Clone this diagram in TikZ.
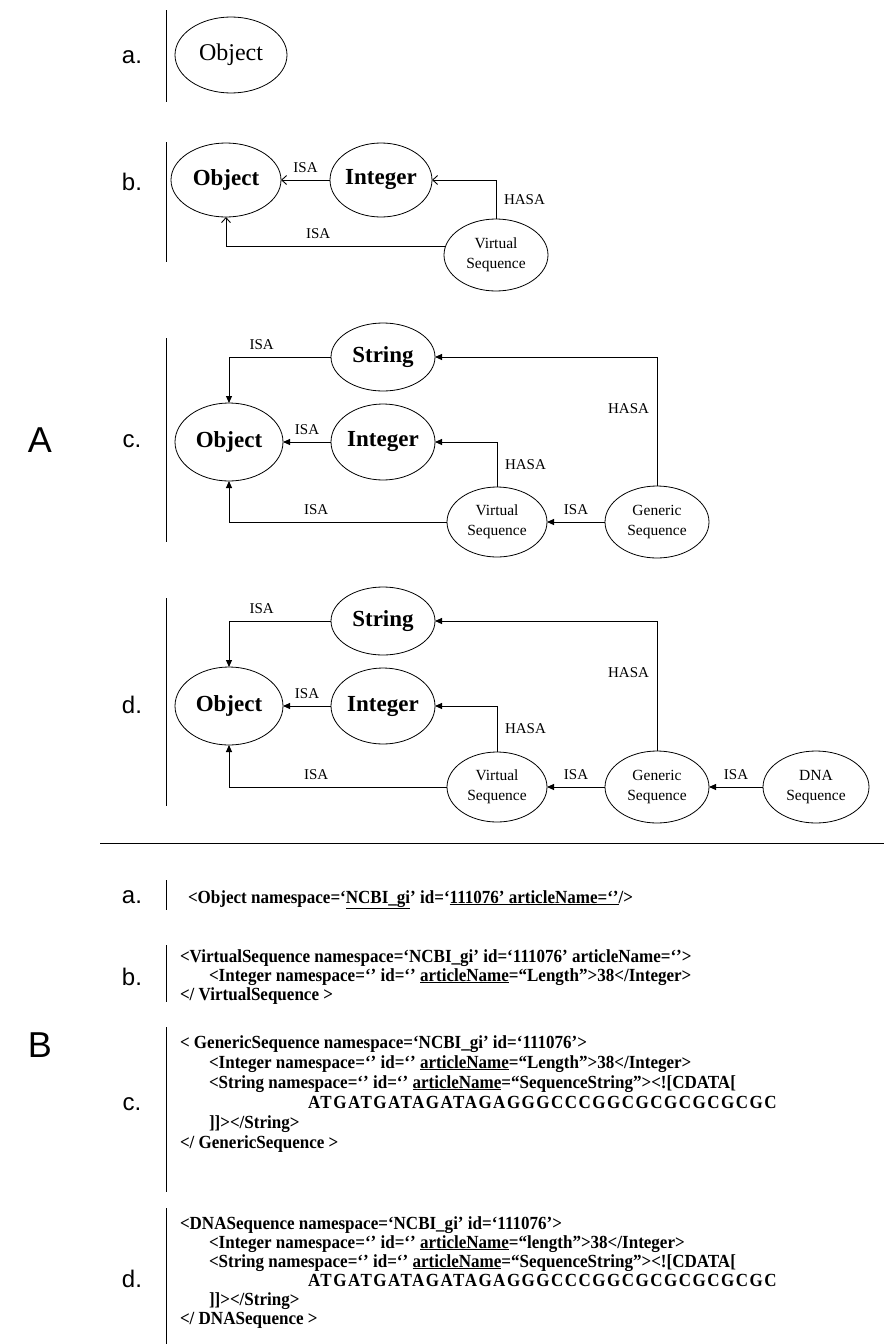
\documentclass[tikz,border=0pt]{standalone}
\usepackage{fontspec}
\setmainfont{Liberation Serif}
\newfontfamily\arialfont{Liberation Sans}
\newfontfamily\xmlfont[FakeStretch=0.92]{Liberation Serif}
\usetikzlibrary{shapes.geometric,arrows.meta}

\begin{document}
\begin{tikzpicture}[x=1pt,y=-1pt,
  every node/.style={inner sep=0pt, outer sep=0pt},
  sec/.style={font=\arialfont\fontsize{24}{24}\selectfont},
  part/.style={font=\arialfont\fontsize{36}{36}\selectfont},
  cls/.style={draw, ellipse, line width=0.8pt, font=\bfseries\fontsize{23}{23}\selectfont},
  sub/.style={draw, ellipse, line width=0.8pt, align=center, font=\fontsize{15.5}{20}\selectfont},
  lbl/.style={font=\fontsize{15}{15}\selectfont},
  barb/.style={-{Straight Barb[length=5pt,width=9pt]}, line width=0.9pt},
  tri/.style={-{Triangle[length=7pt,width=6pt]}, line width=0.9pt},
  xml/.style={anchor=base west, font=\xmlfont\bfseries\fontsize{18.5}{18.5}\selectfont},
  bar/.style={line width=0.9pt}]
\useasboundingbox (0,0) rectangle (884,1344);

\node[part] (pa) at (40,440) {A};
\node[part] (pb) at (40,1045) {B};

% A.a
\node[sec] (la) at (132,57) {a.};
\draw[bar] (166,10) -- (166,102);
\node[cls, font=\fontsize{24}{24}\selectfont, minimum width=112, minimum height=76] (oa) at (231,55) {Object};

% A.b
\node[sec] (lb) at (132,182) {b.};
\draw[bar] (166,142) -- (166,262);
\node[cls, minimum width=110, minimum height=74] (ob) at (226,180) {Object};
\node[cls, minimum width=102, minimum height=74] (ib) at (381,180) {Integer};
\node[sub, minimum width=104, minimum height=72] (vb) at (496,255) {Virtual\\Sequence};
\draw[barb] (ib.west) -- node[lbl, above=7pt] {ISA} (ob.east);
\draw[barb] (vb.north) |- node[lbl, pos=0.25, right=8pt] {HASA} (ib.east);
\draw[barb] (vb.170) -| node[lbl, pos=0.29, above=7pt] {ISA} (ob.south);

% A.c
\node[sec] (lc) at (132,441) {c.};
\draw[bar] (166,338) -- (166,542);
\node[cls, minimum width=108, minimum height=78] (oc) at (229,442) {Object};
\node[cls, minimum width=104, minimum height=76] (ic) at (383,442) {Integer};
\node[cls, minimum width=104, minimum height=68] (sc) at (383,357) {String};
\node[sub, minimum width=100, minimum height=70] (vc) at (497,522) {Virtual\\Sequence};
\node[sub, minimum width=104, minimum height=72] (gc) at (657,522) {Generic\\Sequence};
\draw[tri] (sc.west) -| node[lbl, pos=0.34, above=7pt] {ISA} (oc.north);
\draw[tri] (ic.west) -- node[lbl, above=7pt] {ISA} (oc.east);
\draw[tri] (vc.north) |- node[lbl, pos=0.25, right=8pt] {HASA} (ic.east);
\draw[tri] (vc.west) -| node[lbl, pos=0.3, above=7pt] {ISA} (oc.south);
\draw[tri] (gc.west) -- node[lbl, above=7pt] {ISA} (vc.east);
\draw[tri] (gc.north) |- node[lbl, pos=0.3, left=8pt] {HASA} (sc.east);

% A.d
\node[sec] (ld) at (132,705) {d.};
\draw[bar] (166,598) -- (166,806);
\node[cls, minimum width=108, minimum height=78] (od) at (229,706) {Object};
\node[cls, minimum width=104, minimum height=76] (id) at (383,706) {Integer};
\node[cls, minimum width=104, minimum height=68] (sd) at (383,621) {String};
\node[sub, minimum width=100, minimum height=70] (vd) at (497,787) {Virtual\\Sequence};
\node[sub, minimum width=104, minimum height=72] (gd) at (657,787) {Generic\\Sequence};
\node[sub, minimum width=106, minimum height=72] (dd) at (816,787) {DNA\\Sequence};
\draw[tri] (sd.west) -| node[lbl, pos=0.34, above=7pt] {ISA} (od.north);
\draw[tri] (id.west) -- node[lbl, above=7pt] {ISA} (od.east);
\draw[tri] (vd.north) |- node[lbl, pos=0.25, right=8pt] {HASA} (id.east);
\draw[tri] (vd.west) -| node[lbl, pos=0.3, above=7pt] {ISA} (od.south);
\draw[tri] (gd.west) -- node[lbl, above=7pt] {ISA} (vd.east);
\draw[tri] (gd.north) |- node[lbl, pos=0.3, left=8pt] {HASA} (sd.east);
\draw[tri] (dd.west) -- node[lbl, above=7pt] {ISA} (gd.east);

\draw[bar] (100,843) -- (884,843);

% B.a
\node[sec] (xa) at (132,897) {a.};
\draw[bar] (166,880) -- (166,910);
\node[xml] (ta1) at (188,903) {<Object namespace=‘\underline{NCBI\_gi}’ id=‘\underline{111076’ articleName=‘’}/>};

% B.b
\node[sec] (xb) at (132,977) {b.};
\draw[bar] (166,945) -- (166,1002);
\node[xml] (tb1) at (180,962) {<VirtualSequence namespace=‘NCBI\_gi’ id=‘111076’ articleName=‘’>};
\node[xml] (tb2) at (209,981) {<Integer namespace=‘’ id=‘’ \underline{articleName}=“Length”>38</Integer>};
\node[xml] (tb3) at (180,1000) {</ VirtualSequence >};

% B.c
\node[sec] (xc) at (132,1104) {c.};
\draw[bar] (166,1027) -- (166,1192);
\node[xml] (tc1) at (180,1048) {< GenericSequence namespace=‘NCBI\_gi’ id=‘111076’>};
\node[xml] (tc2) at (209,1068) {<Integer namespace=‘’ id=‘’ \underline{articleName}=“Length”>38</Integer>};
\node[xml] (tc3) at (209,1088) {<String namespace=‘’ id=‘’ \underline{articleName}=“SequenceString”><![CDATA[};
\node[xml] (tc4) at (308,1108) {\addfontfeature{LetterSpace=8}ATGATGATAGATAGAGGGCCCGGCGCGCGCGCGC};
\node[xml] (tc5) at (209,1128) {]]></String>};
\node[xml] (tc6) at (180,1148) {</ GenericSequence >};

% B.d
\node[sec] (xd) at (132,1279) {d.};
\draw[bar] (166,1208) -- (166,1344);
\node[xml] (td1) at (180,1229) {<DNASequence namespace=‘NCBI\_gi’ id=‘111076’>};
\node[xml] (td2) at (209,1248) {<Integer namespace=‘’ id=‘’ \underline{articleName}=“length”>38</Integer>};
\node[xml] (td3) at (209,1267) {<String namespace=‘’ id=‘’ \underline{articleName}=“SequenceString”><![CDATA[};
\node[xml] (td4) at (308,1286) {\addfontfeature{LetterSpace=8}ATGATGATAGATAGAGGGCCCGGCGCGCGCGCGC};
\node[xml] (td5) at (209,1305) {]]></String>};
\node[xml] (td6) at (180,1324) {</ DNASequence >};
\end{tikzpicture}
\end{document}
